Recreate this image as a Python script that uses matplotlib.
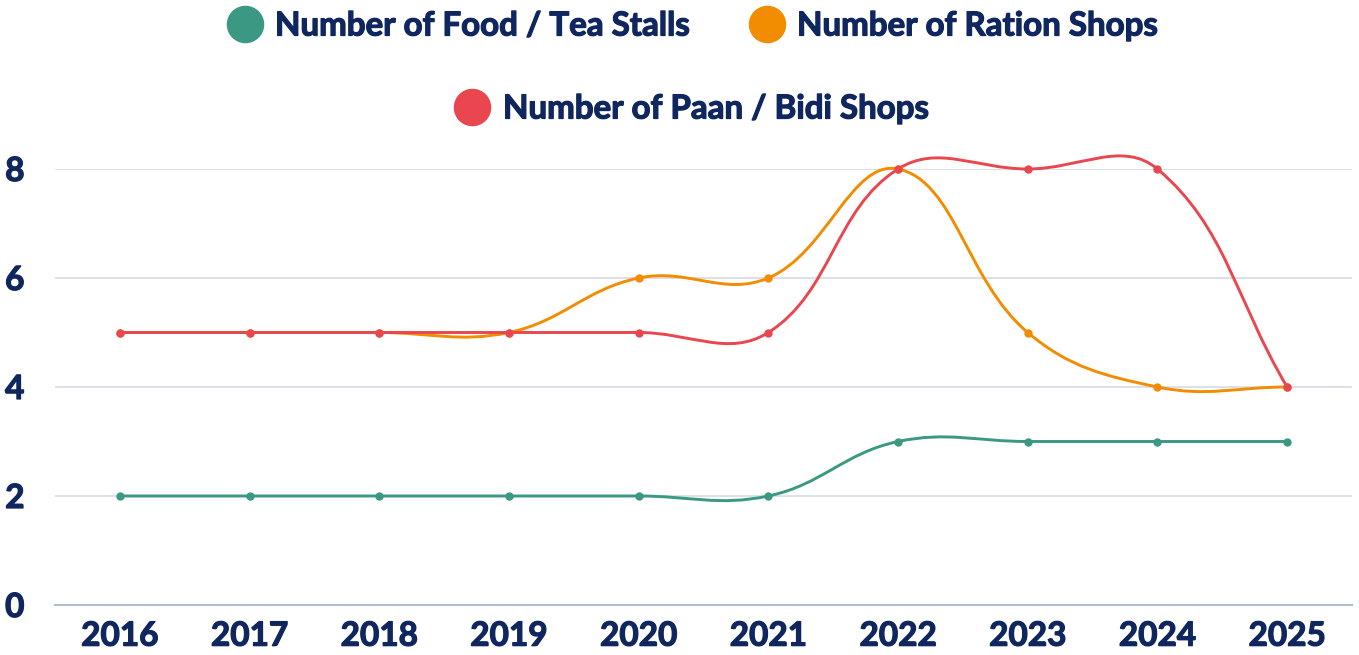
import numpy as np
import matplotlib.pyplot as plt
import matplotlib.patheffects as pe
from matplotlib.path import Path
from matplotlib.patches import PathPatch

plt.rcParams['font.family'] = ['Lato', 'DejaVu Sans']

years = ["2016", "2017", "2018", "2019", "2020", "2021", "2022", "2023", "2024", "2025"]
food_tea = [2, 2, 2, 2, 2, 2, 3, 3, 3, 3]
ration = [5, 5, 5, 5, 6, 6, 8, 5, 4, 4]
paan_bidi = [5, 5, 5, 5, 5, 5, 8, 8, 8, 4]

labels = ["Number of Food / Tea Stalls", "Number of Ration Shops", "Number of Paan / Bidi Shops"]
colors = ["#3a9883", "#f28c00", "#e9464f"]
navy = "#10265f"
# fake a heavier weight than Lato Bold
thick = [pe.withStroke(linewidth=0.9, foreground=navy)]

W, H = 1359, 655
fig = plt.figure(figsize=(W / 100, H / 100), dpi=100)
ax = fig.add_axes([55 / W, 50 / H, (1352 - 55) / W, (605 - 169) / H])

x = np.arange(len(years))
ax.set_xlim(-0.5, len(years) - 0.5)
ax.set_ylim(0, 8)

# pixel scale, used so the smoothing behaves like a tension spline on screen
sx = 1297 / len(years)
sy = 436 / 8


def smooth_path(xs, ys, tension=0.4):
    px = np.array(xs, float) * sx
    py = np.array(ys, float) * sy
    n = len(px)
    cps = []
    for i in range(n):
        p = (px[max(i - 1, 0)], py[max(i - 1, 0)])
        c = (px[i], py[i])
        nx = (px[min(i + 1, n - 1)], py[min(i + 1, n - 1)])
        d01 = np.hypot(c[0] - p[0], c[1] - p[1])
        d12 = np.hypot(nx[0] - c[0], nx[1] - c[1])
        tot = d01 + d12
        s01 = d01 / tot if tot else 0
        s12 = d12 / tot if tot else 0
        fa, fb = tension * s01, tension * s12
        cp1 = (c[0] - fa * (nx[0] - p[0]), c[1] - fa * (nx[1] - p[1]))
        cp2 = (c[0] + fb * (nx[0] - p[0]), c[1] + fb * (nx[1] - p[1]))
        cps.append((cp1, cp2))
    verts = [(px[0] / sx, py[0] / sy)]
    codes = [Path.MOVETO]
    for i in range(n - 1):
        a = cps[i][1]
        b = cps[i + 1][0]
        verts += [(a[0] / sx, a[1] / sy), (b[0] / sx, b[1] / sy), (px[i + 1] / sx, py[i + 1] / sy)]
        codes += [Path.CURVE4] * 3
    return Path(verts, codes)


for vals, col in zip([food_tea, ration, paan_bidi], colors):
    patch = PathPatch(smooth_path(x, vals), facecolor="none", edgecolor=col, lw=2.1, clip_on=False, zorder=3)
    ax.add_patch(patch)
    ax.plot(x, vals, "o", color=col, markersize=5, clip_on=False, zorder=4)

ax.set_yticks([0, 2, 4, 6, 8])
ax.set_xticks(x)
ax.set_xticklabels(years)
ax.grid(axis="y", color="#d6dae4", lw=1.2)
ax.set_axisbelow(True)
for s in ["top", "right", "left"]:
    ax.spines[s].set_visible(False)
ax.spines["bottom"].set_color("#b3bcd0")
ax.spines["bottom"].set_linewidth(1.5)
ax.tick_params(axis="both", length=0, labelsize=24, labelcolor=navy)
ax.tick_params(axis="y", pad=22)
ax.tick_params(axis="x", pad=12)
for lab in ax.get_xticklabels() + ax.get_yticklabels():
    lab.set_fontweight("bold")
    lab.set_path_effects(thick)

# legend, two centred rows
leg_items = [(245, 24, 275, 0), (767, 24, 797, 1), (472, 107, 503, 2)]
for cx, cy, tx, i in leg_items:
    fig.lines.append(plt.Line2D([cx / W], [1 - cy / H], marker="o", markersize=26,
                                color=colors[i], transform=fig.transFigure, figure=fig))
    fig.text(tx / W, 1 - (cy + 2) / H, labels[i], fontsize=23.8, fontweight="bold",
             color=navy, va="center", ha="left", path_effects=thick)

fig.savefig("out.png", dpi=100)
